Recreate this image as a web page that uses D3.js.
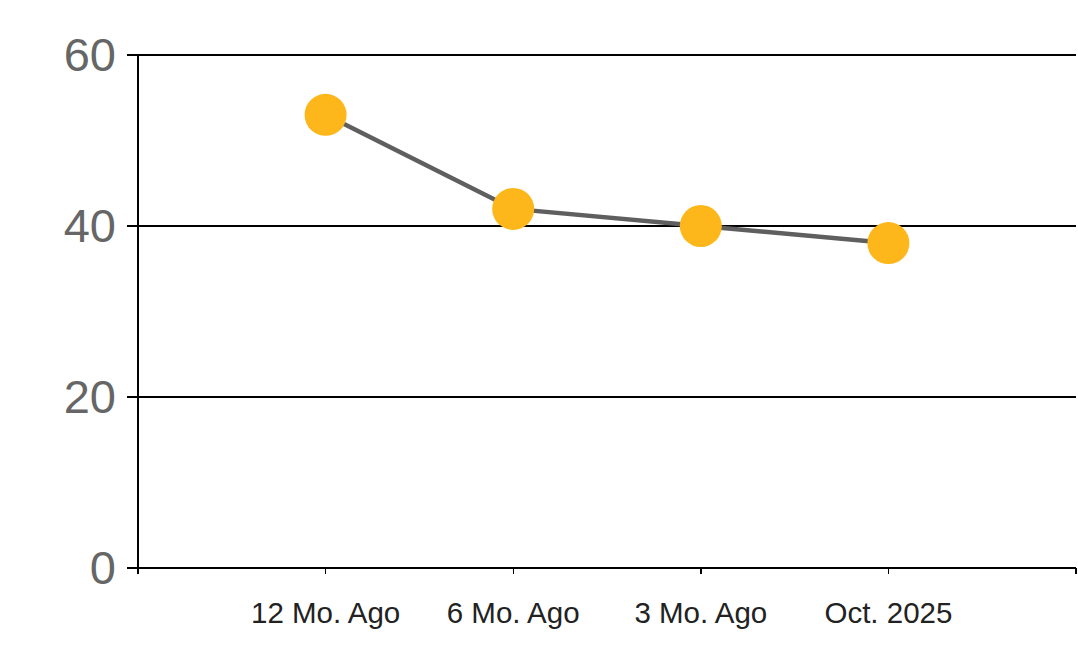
<!DOCTYPE html>
<html><head><meta charset="utf-8">
<script src="https://cdn.jsdelivr.net/npm/d3@7"></script>
<style>html,body{margin:0;padding:0;background:#fff;}</style>
</head><body>
<svg id="chart" width="1078" height="663"></svg>
<script>
const categories = ["12 Mo. Ago", "6 Mo. Ago", "3 Mo. Ago", "Oct. 2025"];
const values = [53, 42, 40, 38];
const yTicks = [0, 20, 40, 60];

const svg = d3.select("#chart");
const mLeft = 138, mRight = 1076, mTop = 55, mBottom = 568;

const x = d3.scaleLinear().domain([0, categories.length + 1]).range([mLeft, mRight]);
const y = d3.scaleLinear().domain([0, 60]).range([mBottom, mTop]);

const axes = svg.append("g").attr("shape-rendering", "crispEdges")
  .attr("stroke", "#000").attr("stroke-width", 1.4);

// gridlines
axes.append("g").selectAll("line").data(yTicks).join("line")
  .attr("x1", mLeft - 11).attr("x2", mRight)
  .attr("y1", d => y(d)).attr("y2", d => y(d));

// y axis line
axes.append("line").attr("x1", mLeft).attr("x2", mLeft).attr("y1", mTop).attr("y2", mBottom + 6);

// x ticks
axes.append("g").selectAll("line").data(d3.range(categories.length + 2)).join("line")
  .attr("x1", d => x(d)).attr("x2", d => x(d))
  .attr("y1", mBottom).attr("y2", mBottom + 6);

// y labels
svg.append("g").selectAll("text").data(yTicks).join("text")
  .attr("x", 116).attr("y", d => y(d) + 16)
  .attr("text-anchor", "end")
  .attr("font-family", "Liberation Sans, Arial, sans-serif")
  .attr("font-size", 47).attr("fill", "#666")
  .text(d => d);

// x labels
svg.append("g").selectAll("text").data(categories).join("text")
  .attr("x", (d, i) => x(i + 1)).attr("y", 623)
  .attr("text-anchor", "middle")
  .attr("font-family", "Liberation Sans, Arial, sans-serif")
  .attr("font-size", 29.5).attr("fill", "#222")
  .text(d => d);

// line
const line = d3.line().x((d, i) => x(i + 1)).y(d => y(d));
svg.append("path").datum(values).attr("d", line)
  .attr("fill", "none").attr("stroke", "#5f5f5f").attr("stroke-width", 4.5);

// points
svg.append("g").selectAll("circle").data(values).join("circle")
  .attr("cx", (d, i) => x(i + 1)).attr("cy", d => y(d)).attr("r", 21)
  .attr("fill", "#FDB71A");
</script>
</body></html>
